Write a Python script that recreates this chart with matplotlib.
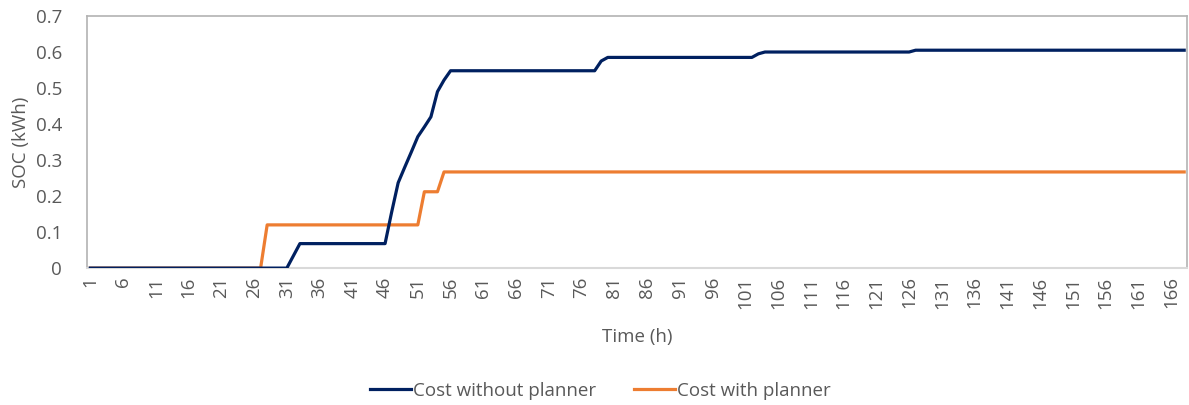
import matplotlib.pyplot as plt

plt.rcParams['font.family'] = ['Open Sans', 'DejaVu Sans']

# hourly SOC over one week (kWh)
hours = list(range(1, 169))
soc_without = ([0.0] * 31 + [0.034] + [0.068] * 14 +
               [0.155, 0.237, 0.28, 0.322, 0.365, 0.392, 0.42, 0.49, 0.522] +
               [0.548] * 23 + [0.575] + [0.585] * 23 + [0.595] +
               [0.600] * 23 + [0.605] * 42)
soc_with = [0.0] * 27 + [0.12] * 24 + [0.212] * 3 + [0.267] * 114
tick_hours = hours[::5]

grey = '#595959'
fs = 13.5

fig = plt.figure(figsize=(11.89, 4.05), dpi=100)
ax = fig.add_axes([0.0732, 0.338, 0.9255, 0.6225])

ax.plot(hours, soc_with, color='#ED7D31', lw=2.3, label='Cost with planner', zorder=2)
ax.plot(hours, soc_without, color='#002060', lw=2.3, label='Cost without planner', zorder=3)

ax.set_xlim(0.5, 168.5)
ax.set_ylim(0, 0.7)
ax.set_yticks([0, 0.1, 0.2, 0.3, 0.4, 0.5, 0.6, 0.7])
ax.set_yticklabels(['0', '0.1', '0.2', '0.3', '0.4', '0.5', '0.6', '0.7'])
ax.set_xticks(tick_hours)
ax.set_xticklabels([str(h) for h in tick_hours], rotation=90)
ax.tick_params(length=0, labelsize=fs, labelcolor=grey, pad=6)
ax.tick_params(axis='y', pad=18)

for side in ['top', 'left', 'right']:
    ax.spines[side].set_color('#b3b3b3')
    ax.spines[side].set_linewidth(1.2)
ax.spines['bottom'].set_color('#d9d9d9')
ax.spines['bottom'].set_linewidth(1.5)

ax.set_xlabel('Time (h)', fontsize=fs, color=grey, labelpad=14)
ax.set_ylabel('SOC (kWh)', fontsize=fs, color=grey, labelpad=4)

handles, labels = ax.get_legend_handles_labels()
fig.legend(handles[::-1], labels[::-1], loc='center', bbox_to_anchor=(0.505, 0.035),
           ncol=2, frameon=False, fontsize=fs, labelcolor=grey,
           handlelength=2.2, handletextpad=0.1, columnspacing=2.0)

fig.savefig('out.png', dpi=100)
